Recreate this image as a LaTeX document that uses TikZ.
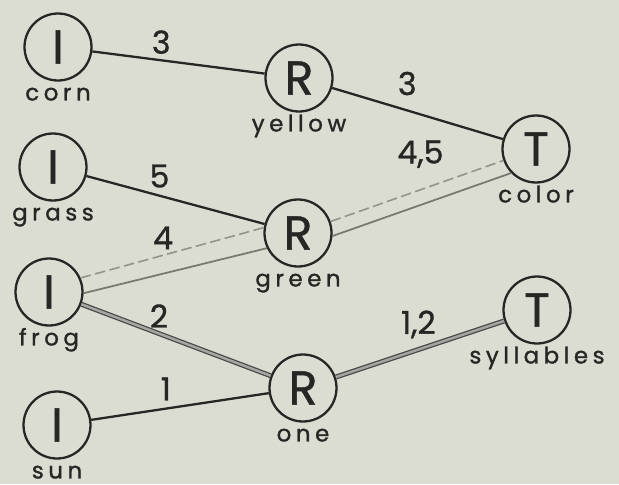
\documentclass[tikz,border=0pt]{standalone}
\usepackage{fontspec}
\setmainfont{Poppins}[FakeBold=1]
\newfontfamily\tagfont[LetterSpace=20,FakeBold=1.2]{Poppins}
\usepackage{tikz}
\definecolor{paper}{RGB}{219,221,210}
\definecolor{ink}{RGB}{38,38,36}
\definecolor{pencil}{RGB}{128,130,122}

\begin{document}
\begin{tikzpicture}[x=0.02cm,y=-0.02cm]
\tikzstyle{V}=[draw=ink,circle,line width=1.3pt,minimum size=1.34cm,inner sep=0pt,font=\fontsize{27}{27}\selectfont,text=ink]
\tikzstyle{nm}=[font=\tagfont\fontsize{13}{15}\selectfont,text=ink,inner sep=0pt,text height=7.5pt,text depth=2.5pt,yshift=-3pt]
\tikzstyle{num}=[font=\fontsize{18}{18}\selectfont,text=ink,inner sep=2pt]
\tikzstyle{E}=[draw=ink,line width=1.3pt]
\tikzstyle{D}=[draw=ink!85,line width=0.7pt,double=pencil!70,double distance=1.4pt]
\tikzstyle{G}=[draw=pencil!80!paper,line width=0.9pt,dash pattern=on 6pt off 2.5pt]
\tikzstyle{H}=[draw=pencil!90!ink,line width=1pt]
\fill[paper] (0,0) rectangle (619,484);
\useasboundingbox (0,0) rectangle (619,484);
% inputs
\node[V,label={[nm]below:corn}] (corn) at (58,47) {I};
\node[V,label={[nm]below:grass}] (grass) at (53,167) {I};
\node[V,label={[nm]below:frog}] (frog) at (49,292) {I};
\node[V,label={[nm]below:sun}] (sun) at (57,425) {I};
% relations
\node[V,label={[nm]below:yellow}] (yellow) at (299,78) {R};
\node[V,label={[nm]below:green}] (green) at (298,233) {R};
\node[V,label={[nm]below:one}] (one) at (303,388) {R};
% targets
\node[V,label={[nm]below:color}] (color) at (536,149) {T};
\node[V,label={[nm]below:syllables}] (syll) at (537,310) {T};
% edges
\draw[E] (corn) -- node[num,pos=0.4,above=1pt] (w3a) {3} (yellow);
\draw[E] (yellow) -- node[num,pos=0.44,above=6pt] (w3b) {3} (color);
\draw[E] (grass) -- node[num,pos=0.41,above=2pt] (w5) {5} (green);
\draw[G] (frog.24) -- node[num,pos=0.45,above=1pt] (w4) {4} (green.171);
\draw[H] (frog.-2) -- (green.206);
\draw[G] (green) -- node[num,pos=0.52,above=10pt] (w45) {4,5} (color);
\draw[H] (green.-5) -- (color.224);
\draw[D] (frog) -- node[num,pos=0.41,above=1pt] (w2) {2} (one);
\draw[E] (sun) -- node[num,pos=0.42,above=2pt] (w1) {1} (one);
\draw[D] (one) -- node[num,pos=0.49,above=4pt] (w12) {1,2} (syll);
\end{tikzpicture}
\end{document}
